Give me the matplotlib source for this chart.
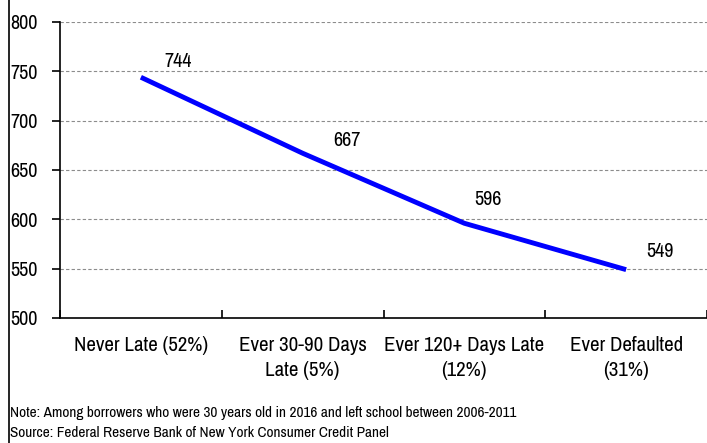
import numpy as np
import matplotlib.pyplot as plt
from matplotlib import font_manager
from matplotlib.lines import Line2D

# data
categories = ['Never Late (52%)', 'Ever 30-90 Days\nLate (5%)',
              'Ever 120+ Days Late\n(12%)', 'Ever Defaulted\n(31%)']
scores = [744, 667, 596, 549]
y_ticks = [500, 550, 600, 650, 700, 750, 800]

# label offsets (points) for the value labels
label_offsets = [(27, 11), (32, 9), (17, 17), (24, 13)]

# pick a narrow face if one is installed
names = sorted({f.name for f in font_manager.fontManager.ttflist})
narrow = [n for n in names if 'Narrow' in n or 'Condensed' in n]
fam = narrow[0] if narrow else 'Liberation Sans'
plt.rcParams['font.family'] = [fam, 'DejaVu Sans']
fs = 15 if narrow else 13
fs_num = 14.5 if narrow else 13
fs_note = 11 if narrow else 9.3

fig = plt.figure(figsize=(7.07, 4.43), dpi=100)
ax = fig.add_axes([60 / 707, 1 - 318 / 443, 1 - 60 / 707, (318 - 22) / 443])

x = np.arange(len(categories))
ax.plot(x, scores, color='#0000ff', linewidth=3.5, solid_capstyle='butt', zorder=3)
for xi, v, off in zip(x, scores, label_offsets):
    ax.annotate(str(v), (xi, v), xytext=off, textcoords='offset points',
                ha='center', va='center', fontsize=fs_num)

ax.set_xlim(-0.5, len(categories) - 0.5)
ax.set_ylim(500, 800)
ax.set_yticks(y_ticks)
ax.set_yticklabels([str(t) for t in y_ticks], fontsize=fs_num, ha='left')
ax.tick_params(axis='y', direction='out', length=5.8, width=1.2, pad=30)
for t in y_ticks[1:]:
    ax.axhline(t, color='#8c8c8c', linewidth=0.8, linestyle=(0, (3, 2)), zorder=1)

ax.set_xticks(np.arange(len(categories) + 1) - 0.5)
ax.set_xticklabels([])
ax.tick_params(axis='x', direction='in', length=6, width=1.2)
ax.set_xticks(x, minor=True)
ax.set_xticklabels(categories, minor=True, fontsize=fs, linespacing=1.4)
ax.tick_params(axis='x', which='minor', length=0, pad=13)

for s in ['top', 'right']:
    ax.spines[s].set_visible(False)
for s in ['left', 'bottom']:
    ax.spines[s].set_linewidth(1.2)

fig.add_artist(Line2D([8.5 / 707, 8.5 / 707], [0, 1], color='black', linewidth=1.2))
fig.text(10 / 707, 1 - 413 / 443,
         'Note: Among borrowers who were 30 years old in 2016 and left school between 2006-2011',
         fontsize=fs_note, va='center')
fig.text(10 / 707, 1 - 433 / 443,
         'Source: Federal Reserve Bank of New York Consumer Credit Panel',
         fontsize=fs_note, va='center')

fig.savefig('out.png', dpi=100)
